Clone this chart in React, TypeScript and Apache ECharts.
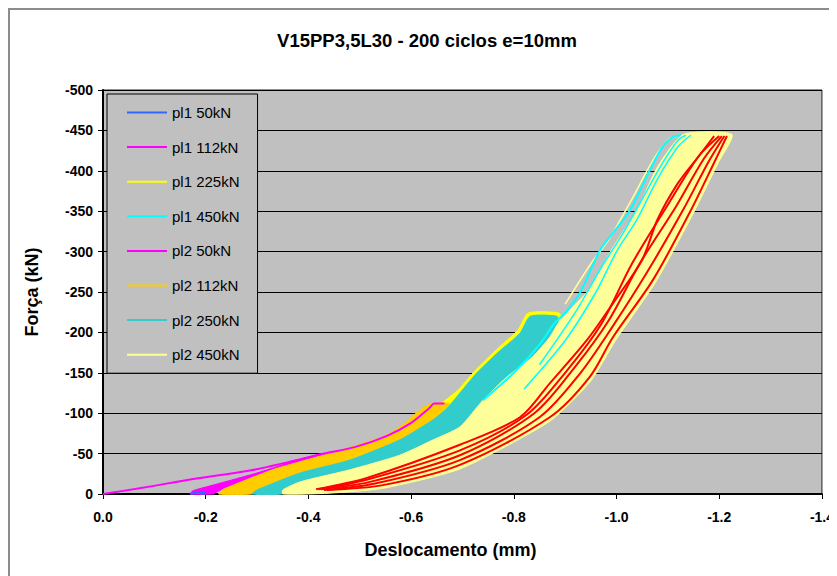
import React, { useEffect, useRef } from 'react';
import * as echarts from 'echarts';

const TITLE = 'V15PP3,5L30 - 200 ciclos e=10mm';
const X_NAME = 'Deslocamento (mm)';
const Y_NAME = 'Força (kN)';
const X_TICK_LABELS = ['0.0', '-0.2', '-0.4', '-0.6', '-0.8', '-1.0', '-1.2', '-1.4'];
const Y_TICK_LABELS = ['0', '-50', '-100', '-150', '-200', '-250', '-300', '-350', '-400', '-450', '-500'];

const LEGEND_NAMES = ['pl1 50kN', 'pl1 112kN', 'pl1 225kN', 'pl1 450kN', 'pl2 50kN', 'pl2 112kN', 'pl2 250kN', 'pl2 450kN'];
const RED_NAME = 'ciclos finais';

// pl1 50kN
const PL1_50 = [[-0.17, 0], [-0.185, -2], [-0.2, -1], [-0.19, 0]];
// pl1 112kN
const PL1_112 = [[0, 0], [-0.08, -8], [-0.17, -18], [-0.286, -29], [-0.364, -40], [-0.43, -50], [-0.49, -58], [-0.553, -72], [-0.6, -88], [-0.635, -106], [-0.645, -112], [-0.665, -112]];
// pl1 225kN (envelope of the loops)
const PL1_225 = [[-0.3, 0], [-0.38, -20], [-0.55, -60], [-0.64, -106], [-0.66, -113], [-0.69, -128], [-0.725, -153], [-0.765, -178], [-0.808, -203], [-0.828, -224], [-0.888, -224], [-0.892, -214], [-0.86, -190], [-0.78, -140], [-0.65, -80], [-0.45, -30], [-0.34, 0]];
// pl1 450kN loops
const PL1_450_A = [[-0.74, -116], [-0.8, -150], [-0.85, -185], [-0.88, -212], [-0.9, -224], [-0.929, -249], [-0.968, -302], [-0.993, -323], [-1.026, -351], [-1.065, -401], [-1.09, -430], [-1.11, -442], [-1.125, -444]];
const PL1_450_B = [[-0.85, -160], [-0.92, -225], [-0.97, -280], [-1.01, -320], [-1.05, -365], [-1.09, -410], [-1.12, -438], [-1.135, -444]];
const PL1_450_C = [[-0.82, -130], [-0.9, -190], [-0.96, -250], [-1.0, -300], [-1.04, -340], [-1.08, -390], [-1.12, -430], [-1.145, -444]];
// pl2 50kN
const PL2_50 = [[-0.17, 0], [-0.175, -4], [-0.22, -12], [-0.3, -26], [-0.364, -39], [-0.42, -49], [-0.45, -51], [-0.44, -46], [-0.38, -36], [-0.3, -20], [-0.24, -8], [-0.22, -2], [-0.215, 0]];
// pl2 112kN
const PL2_112 = [[-0.225, 0], [-0.235, -6], [-0.33, -30], [-0.384, -40], [-0.462, -54], [-0.545, -71], [-0.578, -83], [-0.623, -107], [-0.64, -112], [-0.675, -112], [-0.67, -104], [-0.643, -92], [-0.578, -67], [-0.481, -42], [-0.384, -26], [-0.3, -5], [-0.29, 0]];
// pl2 250kN
const PL2_250 = [[-0.29, 0], [-0.3, -5], [-0.384, -26], [-0.481, -42], [-0.578, -67], [-0.643, -92], [-0.67, -106], [-0.695, -125], [-0.728, -150], [-0.767, -174], [-0.812, -199], [-0.832, -220], [-0.884, -220], [-0.886, -211], [-0.87, -194], [-0.837, -170], [-0.787, -145], [-0.74, -116], [-0.695, -83], [-0.643, -67], [-0.578, -48], [-0.481, -30], [-0.384, -15], [-0.35, -5], [-0.35, 0]];
// pl2 450kN
const PL2_450 = [[-0.35, 0], [-0.44, -1], [-0.545, -7], [-0.695, -31], [-0.87, -90], [-0.95, -140], [-0.998, -190], [-1.076, -262], [-1.15, -348], [-1.198, -410], [-1.225, -445], [-1.13, -445], [-1.08, -405], [-1.04, -352], [-0.99, -302], [-0.945, -252], [-0.905, -225], [-0.886, -211], [-0.87, -194], [-0.837, -170], [-0.787, -145], [-0.74, -116], [-0.695, -83], [-0.643, -67], [-0.578, -48], [-0.481, -30], [-0.384, -15], [-0.35, -5]];
const PL2_450_LINE = [[-0.9, -235], [-0.95, -285], [-0.985, -315], [-1.03, -365], [-1.07, -412], [-1.1, -438], [-1.12, -444]];
// last cycles (red)
const RED_1 = [[-0.436, -5], [-0.545, -11], [-0.695, -36], [-0.87, -95], [-0.948, -145], [-0.993, -194], [-1.071, -265], [-1.143, -349], [-1.19, -410], [-1.215, -443]];
const RED_2 = [[-0.43, -5], [-0.53, -13], [-0.695, -42], [-0.85, -95], [-0.93, -150], [-0.99, -205], [-1.06, -275], [-1.13, -352], [-1.18, -412], [-1.21, -443]];
const RED_3 = [[-0.425, -6], [-0.52, -15], [-0.695, -48], [-0.84, -100], [-0.92, -158], [-0.985, -215], [-1.045, -285], [-1.115, -355], [-1.17, -415], [-1.205, -443]];
const RED_4 = [[-0.42, -6], [-0.515, -18], [-0.695, -54], [-0.825, -98], [-0.9, -150], [-0.97, -210], [-1.03, -285], [-1.1, -358], [-1.16, -418], [-1.2, -443]];
const RED_5 = [[-0.415, -6], [-0.514, -20], [-0.695, -61], [-0.812, -95], [-0.87, -137], [-0.943, -191], [-0.993, -236], [-1.05, -290], [-1.08, -340], [-1.12, -385], [-1.16, -418], [-1.19, -443]];

const FONT = '"Liberation Sans", Arial, sans-serif';

function bandSeries(name: string, pts: number[][], color: string) {
  return {
    type: 'custom',
    name,
    coordinateSystem: 'cartesian2d',
    data: pts,
    silent: true,
    itemStyle: { color },
    renderItem: (params: any, api: any) => {
      if (params.dataIndex !== 0) return null;
      const points = pts.map((p) => api.coord(p));
      return {
        type: 'polygon',
        shape: { points, smooth: 0.2 },
        style: { fill: color, stroke: color, lineWidth: 1 },
      };
    },
  };
}

function lineSeries(name: string, pts: number[][], color: string, width: number) {
  return {
    type: 'line',
    name,
    data: pts,
    symbol: 'none',
    smooth: 0.3,
    silent: true,
    itemStyle: { color },
    lineStyle: { color, width },
  };
}

export default function App() {
  const ref = useRef<HTMLDivElement>(null);
  useEffect(() => {
    if (!ref.current) return;
    const chart = echarts.init(ref.current, undefined, { renderer: 'svg' });
    chart.setOption({
      animation: false,
      backgroundColor: '#fff',
      title: {
        text: TITLE,
        left: 414,
        textAlign: 'center',
        top: 18,
        textStyle: { fontSize: 18.5, fontWeight: 'bold', color: '#000', fontFamily: FONT },
      },
      graphic: [
        { type: 'rect', shape: { x: 1, y: 1, width: 900, height: 700 }, style: { fill: 'none', stroke: '#8c8c8c', lineWidth: 2 }, silent: true },
      ],
      legend: {
        orient: 'vertical',
        left: 99,
        top: 86,
        padding: [11, 18, 11, 20],
        itemGap: 19.6,
        itemWidth: 40,
        itemHeight: 2,
        backgroundColor: '#C0C0C0',
        borderColor: '#000',
        borderWidth: 1,
        selectedMode: false,
        textStyle: { fontSize: 15, color: '#000', fontFamily: FONT },
        data: LEGEND_NAMES.map((name) => ({ name, icon: 'rect' })),
      },
      grid: {
        left: 95,
        top: 82,
        width: 719,
        height: 404,
        show: true,
        backgroundColor: '#C0C0C0',
        borderColor: '#222',
        borderWidth: 1,
      },
      xAxis: {
        type: 'value',
        min: -1.4,
        max: 0,
        interval: 0.2,
        inverse: true,
        name: X_NAME,
        nameLocation: 'middle',
        nameGap: 47,
        nameTextStyle: { fontSize: 18, fontWeight: 'bold', color: '#000', fontFamily: FONT, padding: [0, 24, 0, 0] },
        axisLine: { show: true, lineStyle: { color: '#000', width: 2 } },
        axisTick: { show: true, length: 5, lineStyle: { color: '#000', width: 1 } },
        splitLine: { show: false },
        axisLabel: {
          margin: 16,
          fontSize: 14,
          fontWeight: 'bold',
          color: '#000',
          fontFamily: FONT,
          formatter: (v: number) => X_TICK_LABELS[Math.round(-v / 0.2)] ?? '',
        },
      },
      yAxis: {
        type: 'value',
        min: -500,
        max: 0,
        interval: 50,
        inverse: true,
        name: Y_NAME,
        nameLocation: 'middle',
        nameGap: 62,
        nameTextStyle: { fontSize: 18, fontWeight: 'bold', color: '#000', fontFamily: FONT },
        axisLine: { show: true, lineStyle: { color: '#000', width: 2 } },
        axisTick: { show: true, length: 5, lineStyle: { color: '#000', width: 1 } },
        splitLine: { show: true, lineStyle: { color: '#000', width: 1 } },
        axisLabel: {
          margin: 10,
          fontSize: 14,
          fontWeight: 'bold',
          color: '#000',
          fontFamily: FONT,
          formatter: (v: number) => Y_TICK_LABELS[Math.round(-v / 50)] ?? '',
        },
      },
      series: [
        lineSeries('pl1 50kN', PL1_50, '#3366FF', 2),
        lineSeries('pl1 112kN', PL1_112, '#FF00FF', 2),
        bandSeries('pl1 225kN', PL1_225, '#FFFF00'),
        bandSeries('pl2 50kN', PL2_50, '#FF00FF'),
        bandSeries('pl2 112kN', PL2_112, '#FFCC00'),
        bandSeries('pl2 250kN', PL2_250, '#33CCCC'),
        bandSeries('pl2 450kN', PL2_450, '#FFFF99'),
        lineSeries('pl2 450kN', PL2_450_LINE, '#FFFF99', 1.5),
        lineSeries('pl1 450kN', PL1_450_A, '#00FFFF', 2),
        lineSeries('pl1 450kN', PL1_450_B, '#00FFFF', 1.5),
        lineSeries('pl1 450kN', PL1_450_C, '#00FFFF', 1.5),
        lineSeries(RED_NAME, RED_1, '#FF0000', 2),
        lineSeries(RED_NAME, RED_2, '#FF0000', 2),
        lineSeries(RED_NAME, RED_3, '#FF0000', 2),
        lineSeries(RED_NAME, RED_4, '#FF0000', 2),
        lineSeries(RED_NAME, RED_5, '#FF0000', 2),
      ],
    });
    return () => chart.dispose();
  }, []);
  return <div ref={ref} style={{ width: 829, height: 568 }} />;
}
